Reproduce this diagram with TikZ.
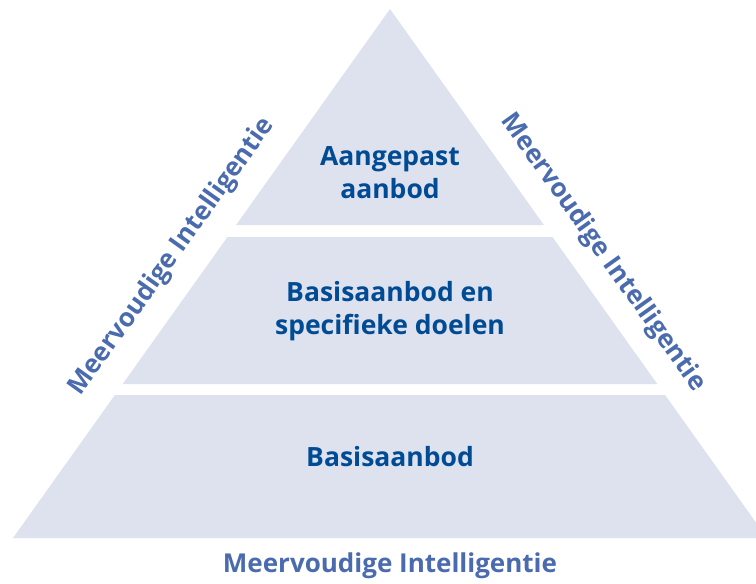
\documentclass[tikz,border=0pt]{standalone}
\usepackage{fontspec}
\setmainfont{Open Sans}
\definecolor{layerfill}{HTML}{DDE2EE}
\definecolor{layertext}{HTML}{004B93}
\definecolor{sidetext}{HTML}{4A6BAE}
\tikzset{
  layer/.style={fill=layerfill, draw=none},
  layerlabel/.style={text=layertext, font=\fontsize{26.5}{33}\selectfont\bfseries, align=center, inner sep=0pt},
  sidelabel/.style={text=sidetext, font=\fontsize{26}{30}\selectfont\bfseries, inner sep=0pt}
}
\begin{document}
\begin{tikzpicture}[x=1pt,y=-1pt]
\useasboundingbox (0,0) rectangle (756,584);
\clip (0,0) rectangle (756,584);
\fill[white] (0,0) rectangle (756,584);
% layers
\path[layer] (390,9) -- (543.9,225) -- (236.1,225) -- cycle;
\path[layer] (227.5,237) -- (552.5,237) -- (657.3,384) -- (122.7,384) -- cycle;
\path[layer] (114.9,395) -- (665.1,395) -- (767,538) -- (13,538) -- cycle;
% layer labels
\node[layerlabel] (top) at (390,173) {Aangepast\\aanbod};
\node[layerlabel] (mid) at (390,311) {Basisaanbod en\\specifieke doelen};
\node[layerlabel] (bot) at (390,457) {Basisaanbod};
% side labels
\node[sidelabel, rotate=54.5] (left) at (172,257) {Meervoudige Intelligentie};
\node[sidelabel, rotate=-54.5] (right) at (603,253) {Meervoudige Intelligentie};
\node[sidelabel] (base) at (390,566) {Meervoudige Intelligentie};
\end{tikzpicture}
\end{document}
